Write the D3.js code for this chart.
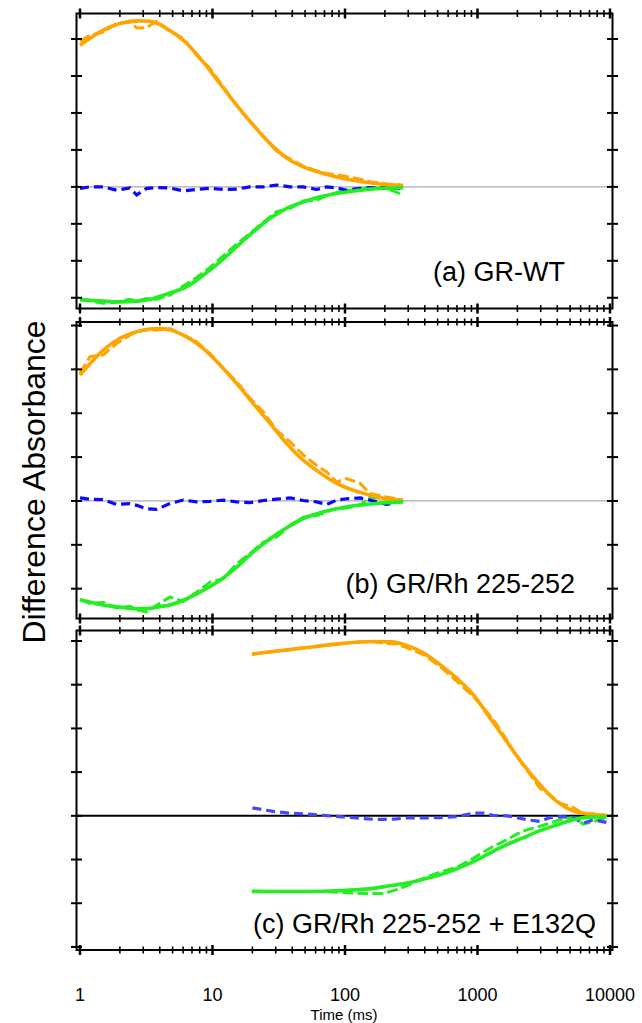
<!DOCTYPE html>
<html>
<head>
<meta charset="utf-8">
<script src="https://cdn.jsdelivr.net/npm/d3@7"></script>
<style>
body{margin:0;background:#fff}
svg{display:block}
text{font-family:Arial,"Liberation Sans",sans-serif;fill:#000}
</style>
</head>
<body>
<svg id="chart" width="642" height="1023"></svg>
<script>
// time (ms) and difference absorbance, in units of one y tick
const tFitA = [1, 1.5, 2, 2.7, 3.4, 4.5, 6.4, 8.5, 11.4, 15.2, 20.3, 27.2, 36.3, 48.4, 64.8, 86.5, 116, 155, 206, 275]
const orangeFitA = [3.83, 4.24, 4.42, 4.49, 4.48, 4.28, 3.88, 3.38, 2.79, 2.21, 1.67, 1.17, 0.78, 0.54, 0.39, 0.27, 0.18, 0.11, 0.06, 0.04]
const greenFitA = [-3.04, -3.09, -3.11, -3.09, -3.04, -2.90, -2.70, -2.39, -2.03, -1.62, -1.22, -0.85, -0.58, -0.41, -0.27, -0.18, -0.11, -0.06, -0.04, -0.02]

const tDataAB = [1, 1.19, 1.5, 1.89, 2.38, 2.68, 3.18, 3.79, 4.78, 6.02, 7.6, 9.58, 12.1, 15.2, 19.2, 24.2, 30.5, 38.5, 48.4, 61.1, 72.7, 86.5, 103, 130, 154, 206, 260]
const orangeDataA = [3.94, 4.10, 4.19, 4.42, 4.46, 4.30, 4.31, 4.48, 4.22, 4.01, 3.56, 3.20, 2.70, 2.21, 1.78, 1.37, 0.97, 0.75, 0.56, 0.43, 0.36, 0.33, 0.28, 0.21, 0.14, 0.08, 0.05]
const greenDataA = [-3.06, -3.08, -3.15, -3.12, -3.04, -3.09, -3.02, -3.04, -2.93, -2.68, -2.45, -2.18, -1.86, -1.55, -1.26, -0.96, -0.67, -0.58, -0.38, -0.36, -0.24, -0.15, -0.10, -0.06, -0.04, -0.04, -0.18]
const blueDataA = [-0.04, 0, 0, -0.09, -0.03, -0.22, -0.04, -0.02, -0.03, -0.11, -0.07, -0.04, -0.07, -0.06, 0, 0, 0.05, 0, 0, -0.07, 0, -0.03, -0.09, -0.04, -0.02, -0.03, -0.04]

const tFitB = [1, 1.5, 2, 2.68, 3.37, 4.0, 4.78, 6.4, 8.5, 11.4, 15.2, 20.3, 27.2, 36.3, 48.4, 64.8, 86.5, 116, 155, 206, 275]
const orangeFitB = [2.87, 3.44, 3.71, 3.86, 3.92, 3.93, 3.90, 3.74, 3.48, 3.10, 2.68, 2.22, 1.77, 1.31, 0.93, 0.64, 0.40, 0.24, 0.13, 0.05, 0.02]
const greenFitB = [-2.25, -2.37, -2.42, -2.46, -2.45, -2.41, -2.37, -2.23, -2.04, -1.81, -1.51, -1.16, -0.86, -0.61, -0.40, -0.27, -0.18, -0.11, -0.07, -0.04, -0.02]
const orangeDataB = [2.91, 3.29, 3.33, 3.59, 3.78, 3.87, 3.90, 3.90, 3.93, 3.78, 3.63, 3.36, 3.02, 2.72, 2.34, 2.03, 1.61, 1.35, 1.05, 0.81, 0.66, 0.43, 0.51, 0.40, 0.17, 0.09, 0.04]
const greenDataB = [-2.25, -2.34, -2.31, -2.44, -2.40, -2.48, -2.53, -2.38, -2.19, -2.29, -2.08, -1.85, -1.77, -1.43, -1.20, -0.94, -0.82, -0.56, -0.37, -0.33, -0.25, -0.17, -0.16, -0.10, 0.09, 0.04, -0.02]
const blueDataB = [0.07, 0.04, 0.03, -0.08, -0.06, -0.10, -0.18, -0.19, -0.06, 0.02, -0.02, -0.01, 0.02, -0.02, -0.04, 0.01, 0.04, 0.07, 0.01, -0.02, -0.08, 0.02, 0.05, 0.07, 0.02, -0.08, -0.02]

const tFitC = [19.8, 28.8, 51.4, 91.7, 164, 219, 292, 390, 521, 697, 930, 1243, 1660, 2218, 2963, 3957, 5286, 7060, 9430]
const orangeFitC = [3.70, 3.76, 3.85, 3.94, 3.99, 3.98, 3.90, 3.73, 3.46, 3.15, 2.77, 2.24, 1.70, 1.17, 0.71, 0.33, 0.11, 0.04, 0.01]
const greenFitC = [-1.73, -1.73, -1.73, -1.71, -1.66, -1.60, -1.54, -1.45, -1.35, -1.21, -1.05, -0.85, -0.66, -0.50, -0.34, -0.21, -0.09, -0.03, -0.02]
const tDataC = [20, 28.8, 38.5, 51.4, 68.6, 91.7, 122, 164, 195, 245, 292, 390, 521, 697, 930, 1107, 1316, 1660, 1976, 2350, 2963, 3524, 4196, 5286, 6290, 7482, 9434]
const orangeDataC = [3.70, 3.76, 3.80, 3.85, 3.90, 3.93, 3.98, 3.98, 3.95, 3.93, 3.85, 3.69, 3.42, 3.08, 2.73, 2.47, 2.20, 1.74, 1.36, 1.05, 0.63, 0.48, 0.29, 0.19, 0.04, 0.04, -0.02]
const greenDataC = [-1.72, -1.73, -1.73, -1.73, -1.73, -1.75, -1.77, -1.78, -1.78, -1.69, -1.60, -1.43, -1.29, -1.18, -0.97, -0.83, -0.70, -0.55, -0.42, -0.32, -0.24, -0.17, -0.09, -0.04, -0.19, -0.13, -0.04]
const blueDataC = [0.18, 0.10, 0.06, 0.04, 0.01, -0.02, -0.05, -0.08, -0.08, -0.07, -0.05, -0.05, -0.04, -0.02, 0.06, 0.06, 0.01, 0, -0.04, -0.09, -0.13, -0.04, -0.02, -0.04, -0.17, -0.09, -0.15]

const panelLabels = ["(a) GR-WT", "(b) GR/Rh 225-252", "(c) GR/Rh 225-252 + E132Q"]
const xTickLabels = [1, 10, 100, 1000, 10000]
const xTitle = "Time (ms)"
const yTitle = "Difference Absorbance"

const zip = (t, v) => t.map((d, i) => [d, v[i]])

const panels = [
  {label: panelLabels[0], box: [13.5, 308.5], domain: [-3.29, 4.69], zero: "#aaa", blue: "#0808ff", lab: [565, 281],
   fits: [[tFitA, orangeFitA, "orange"], [tFitA, greenFitA, "green"]],
   data: [[tDataAB, orangeDataA, "orange"], [tDataAB, greenDataA, "green"], [tDataAB, blueDataA, "blue"]]},
  {label: panelLabels[1], box: [322, 618.5], domain: [-2.68, 4.08], zero: "#aaa", blue: "#0808ff", lab: [575, 593],
   fits: [[tFitB, orangeFitB, "orange"], [tFitB, greenFitB, "green"]],
   data: [[tDataAB, orangeDataB, "orange"], [tDataAB, greenDataB, "green"], [tDataAB, blueDataB, "blue"]]},
  {label: panelLabels[2], box: [630.5, 950], domain: [-3.07, 4.24], zero: "#000", blue: "#4646ff", lab: [596, 933],
   fits: [[tFitC, orangeFitC, "orange"], [tFitC, greenFitC, "green"]],
   data: [[tDataC, orangeDataC, "orange"], [tDataC, greenDataC, "green"], [tDataC, blueDataC, "blue"]]}
]

const colors = {orange: "#ffa500", green: "#22ee22"}
const left = 76.5, right = 612.5

const svg = d3.select("#chart")
const x = d3.scaleLog().domain([1, 10000]).range([80, 610])

// minor + major log ticks
const xTicks = []
for (let e = 0; e < 4; e++) for (let m = 1; m < 10; m++) xTicks.push(m * Math.pow(10, e))
xTicks.push(10000)
const isMajor = v => Math.abs(Math.log10(v) - Math.round(Math.log10(v))) < 1e-9

panels.forEach(function(p){
  const y = d3.scaleLinear().domain(p.domain).range([p.box[1], p.box[0]])
  const g = svg.append("g")

  g.append("line").attr("x1", left).attr("x2", right).attr("y1", y(0)).attr("y2", y(0))
    .attr("stroke", p.zero).attr("stroke-width", p.zero == "#000" ? 2 : 1.2)

  const line = d3.line().x(d => x(d[0])).y(d => y(d[1]))

  p.data.forEach(function(s){
    const c = s[2] == "blue" ? p.blue : colors[s[2]]
    g.append("path").datum(zip(s[0], s[1])).attr("d", line)
      .attr("fill", "none").attr("stroke", c).attr("stroke-width", s[2] == "blue" ? 3.2 : 3)
      .attr("stroke-dasharray", s[2] == "blue" ? "9,5" : "11,4")
  })
  p.fits.forEach(function(s){
    g.append("path").datum(zip(s[0], s[1])).attr("d", line.curve(d3.curveMonotoneX))
      .attr("fill", "none").attr("stroke", colors[s[2]]).attr("stroke-width", 3.6)
    line.curve(d3.curveLinear)
  })

  g.append("rect").attr("x", left).attr("y", p.box[0]).attr("width", right - left).attr("height", p.box[1] - p.box[0])
    .attr("fill", "none").attr("stroke", "#000").attr("stroke-width", 2)

  // cross ticks on all four sides
  ;[p.box[0], p.box[1]].forEach(function(yy){
    g.selectAll(null).data(xTicks).enter().append("line")
      .attr("x1", d => x(d)).attr("x2", d => x(d))
      .attr("y1", d => yy - (isMajor(d) ? 5 : 3.5)).attr("y2", d => yy + (isMajor(d) ? 5 : 3.5))
      .attr("stroke", "#000").attr("stroke-width", d => isMajor(d) ? 2.5 : 1.6)
  })
  const yTicks = d3.range(Math.ceil(p.domain[0]), Math.floor(p.domain[1]) + 1)
  ;[left, right].forEach(function(xx){
    g.selectAll(null).data(yTicks).enter().append("line")
      .attr("x1", xx - 5.5).attr("x2", xx + 5.5).attr("y1", d => y(d)).attr("y2", d => y(d))
      .attr("stroke", "#000").attr("stroke-width", 2)
  })

  g.append("text").attr("x", p.lab[0]).attr("y", p.lab[1]).attr("text-anchor", "end")
    .attr("font-size", 27).text(p.label)
})

svg.append("g").selectAll("text").data(xTickLabels).enter().append("text")
  .attr("x", d => x(d)).attr("y", 1001).attr("text-anchor", "middle").attr("font-size", 18)
  .text(d => d3.format("d")(d))

svg.append("text").attr("x", 344).attr("y", 1020).attr("text-anchor", "middle").attr("font-size", 15).text(xTitle)

svg.append("text").attr("transform", "translate(45,482) rotate(-90)").attr("text-anchor", "middle")
  .attr("font-size", 32).text(yTitle)
</script>
</body>
</html>
